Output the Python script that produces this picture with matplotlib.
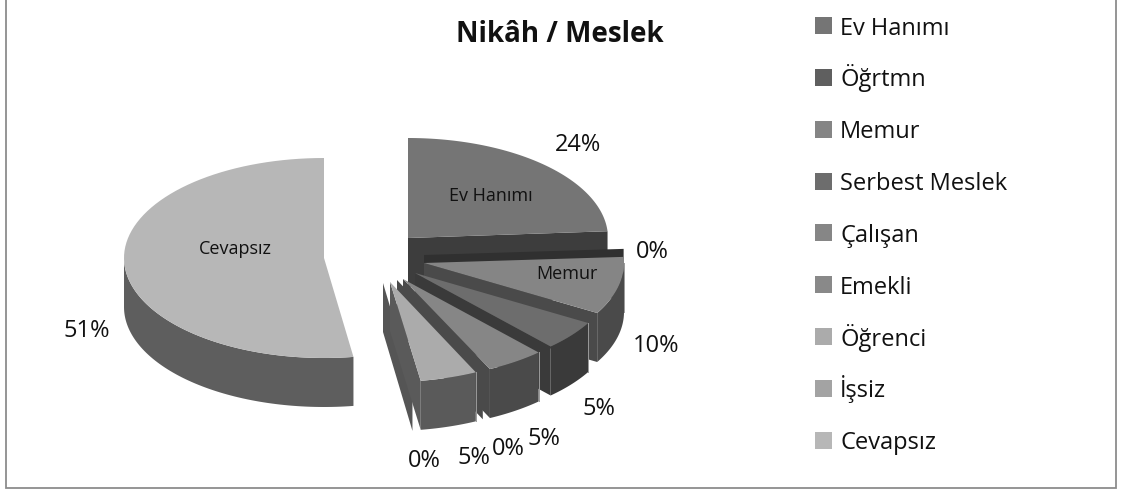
import numpy as np
import matplotlib
matplotlib.use('Agg')
import matplotlib.pyplot as plt
from matplotlib.patches import Polygon, Rectangle

plt.rcParams['font.family'] = ['Open Sans', 'DejaVu Sans']

# data
categories = ['Ev Hanımı', 'Öğrtmn', 'Memur', 'Serbest Meslek', 'Çalışan',
              'Emekli', 'Öğrenci', 'İşsiz', 'Cevapsız']
values = [23.9, 0.1, 9.3, 4.8, 4.7, 0.1, 4.6, 0.1, 52.3]
pct_labels = ['24%', '0%', '10%', '5%', '5%', '0%', '5%', '0%', '51%']

# looks of the slices
top_colors = ['#757575', '#5f5f5f', '#858585', '#6d6d6d', '#868686',
              '#898989', '#ababab', '#a3a3a3', '#b7b7b7']
wall_colors = ['#3d3d3d', '#303030', '#4a4a4a', '#3a3a3a', '#4a4a4a',
               '#4a4a4a', '#5a5a5a', '#555555', '#5e5e5e']
apex_x = [408, 424, 424, 415, 403, 397, 390, 383, 324]
apex_y = [238, 255, 263, 273, 279, 280, 282, 283, 258]
pct_x = [578, 652, 656, 599, 544, 508, 474, 424, 87]
pct_base = [151, 258, 352, 415, 445, 455, 464, 467, 337]
rx, ry, depth = 200, 100, 49
draw_order = [8, 0, 1, 2, 3, 4, 5, 7, 6]


def rim(cx, cy, a0, a1, n=80):
    t = np.radians(np.linspace(a0, a1, n))
    return np.column_stack([cx + rx * np.sin(t), cy - ry * np.cos(t)])


fig = plt.figure(figsize=(11.21, 4.90), dpi=100)
ax = fig.add_axes([0, 0, 1, 1])
ax.set_xlim(0, 1121)
ax.set_ylim(490, 0)
ax.axis('off')

# chart frame, its top edge is cut off by the picture
ax.add_patch(Rectangle((6, -4), 1110, 492, fc='white', ec='#8c8c8c', lw=1.3))

sweep = np.array(values) / sum(values) * 360
ends = np.cumsum(sweep)
starts = ends - sweep

for i in draw_order:
    cx, cy = apex_x[i], apex_y[i]
    a0, a1 = starts[i], ends[i]
    down = np.array([0, depth])
    z = 2 + draw_order.index(i)

    # cut face on the trailing edge, not seen on the big left slice
    if i != 8:
        p = rim(cx, cy, a1, a1, 1)[0]
        apex = np.array([cx, cy])
        ax.add_patch(Polygon([apex, p, p + down, apex + down], closed=True,
                             fc=wall_colors[i], ec='none', zorder=z))

    # the 0% slices show nothing but that cut face
    if values[i] < 1:
        continue

    # outer wall, only the part that faces the viewer
    w0, w1 = max(a0, 90), min(a1, 270)
    if w1 > w0:
        arc = rim(cx, cy, w0, w1)
        ax.add_patch(Polygon(np.vstack([arc, (arc + down)[::-1]]), closed=True,
                             fc=wall_colors[i], ec='none', zorder=z))
        if i != 8:
            ax.plot([arc[0, 0], arc[0, 0]], [arc[0, 1], arc[0, 1] + depth],
                    color='#9a9a9a', lw=0.7, zorder=z)

    # top face
    top = np.vstack([[cx, cy], rim(cx, cy, a0, a1)])
    ax.add_patch(Polygon(top, closed=True, fc=top_colors[i], ec='none', zorder=z))

for i, lab in enumerate(pct_labels):
    ax.text(pct_x[i], pct_base[i], lab, fontsize=17, color='#111111',
            ha='center', va='baseline', zorder=30)

# names on the big slices
ax.text(491, 201, categories[0], fontsize=13, color='#111111', ha='center', va='baseline', zorder=30)
ax.text(567, 279, categories[2], fontsize=13, color='#111111', ha='center', va='baseline', zorder=30)
ax.text(235, 254, categories[8], fontsize=13, color='#111111', ha='center', va='baseline', zorder=30)

ax.text(560, 42, 'Nikâh / Meslek', fontsize=20, fontweight='bold', color='#111111',
        ha='center', va='baseline', zorder=30)

# legend
for i, name in enumerate(categories):
    yc = 25.7 + i * 51.8
    ax.add_patch(Rectangle((815, yc - 8.5), 17, 17, fc=top_colors[i], ec='none', zorder=30))
    ax.text(840, yc + 9, name, fontsize=17, color='#111111', ha='left', va='baseline', zorder=30)

fig.savefig('out.png', dpi=100)
